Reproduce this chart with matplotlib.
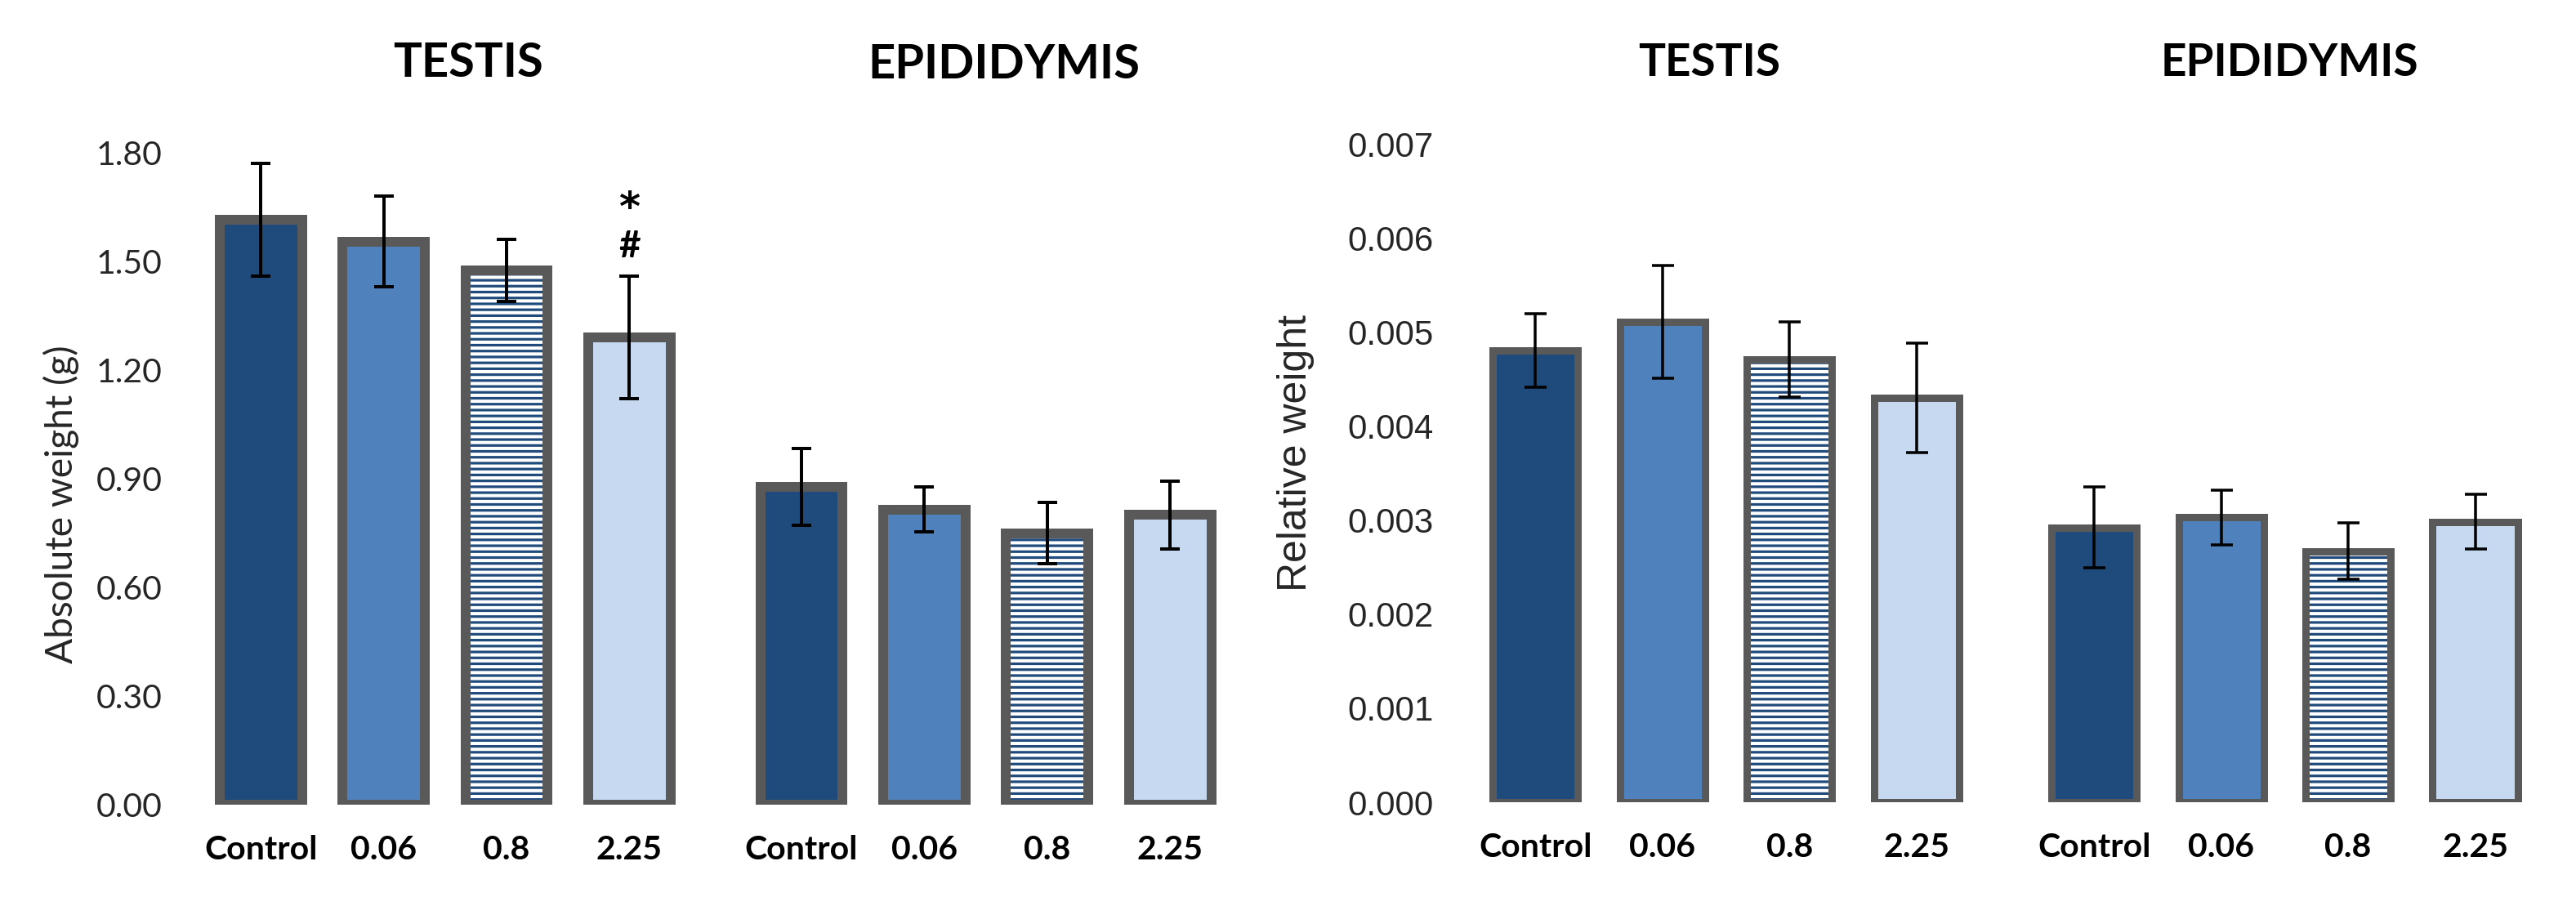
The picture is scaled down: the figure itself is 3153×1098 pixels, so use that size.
import numpy as np
import matplotlib
matplotlib.use("Agg")
import matplotlib.pyplot as plt

# data
doses = ["Control", "0.06", "0.8", "2.25"]
abs_testis = [1.615, 1.555, 1.475, 1.29]
abs_testis_err = [0.155, 0.125, 0.085, 0.17]
abs_epid = [0.877, 0.815, 0.75, 0.80]
abs_epid_err = [0.106, 0.062, 0.085, 0.093]
rel_testis = [0.00480, 0.00511, 0.00471, 0.00430]
rel_testis_err = [0.00039, 0.00060, 0.00040, 0.00058]
rel_epid = [0.00292, 0.00303, 0.00267, 0.00298]
rel_epid_err = [0.00043, 0.00029, 0.00030, 0.00029]
abs_ticks = [0.0, 0.3, 0.6, 0.9, 1.2, 1.5, 1.8]
rel_ticks = [0.000, 0.001, 0.002, 0.003, 0.004, 0.005, 0.006, 0.007]

DPI = 130
W, H = 3153, 1098


def pt(px):
    return px * 72 / DPI


def rect(l, t, r, b):
    return [l / W, 1 - b / H, (r - l) / W, (b - t) / H]


NAVY = "#1F4A7C"
MID = "#4F81BD"
LIGHT = "#C6D9F1"
EDGE = "#595959"
fills = [NAVY, MID, "none", LIGHT]

plt.rcParams["hatch.linewidth"] = pt(3.2)

fig = plt.figure(figsize=(W / DPI, H / DPI), dpi=DPI)
fig.patch.set_facecolor("white")

GAP = 4.4
x_t = np.arange(4)
x_e = np.arange(4) + GAP
xs = np.concatenate([x_t, x_e])
names = doses + doses


def panel(ax, vals, errs, edge_px, cap_px, elw_px, pad_y):
    vals = np.array(vals)
    colors = fills + fills
    ax.bar(xs, vals, 0.67, color=colors, edgecolor=EDGE,
           linewidth=pt(edge_px), zorder=2)
    hidx = [2, 6]
    ax.bar(xs[hidx], vals[hidx], 0.67, facecolor="white", edgecolor=NAVY,
           hatch="---", linewidth=0, zorder=1.5)
    ax.errorbar(xs, vals, yerr=errs, fmt="none", ecolor="black",
                elinewidth=pt(elw_px), capsize=pt(cap_px),
                capthick=pt(elw_px), zorder=3)
    for s in ax.spines.values():
        s.set_visible(False)
    ax.set_xlim(-0.6, 7.95)
    ax.set_xticks(xs)
    ax.set_xticklabels(names, fontfamily="Lato", fontweight="bold",
                       fontsize=pt(41))
    ax.tick_params(axis="x", length=0, pad=pt(37))
    ax.tick_params(axis="y", length=0, pad=pad_y)


# left: absolute weight
ax1 = fig.add_axes(rect(229, 187, 1515, 985))
panel(ax1, abs_testis + abs_epid, abs_testis_err + abs_epid_err,
      12, 12, 4, pt(30))
ax1.set_ylim(0, 1.8)
ax1.set_yticks(abs_ticks)
ax1.set_yticklabels(["%.2f" % v for v in abs_ticks], fontfamily="Lato",
                    fontsize=pt(41), color="#262626")
ax1.text(x_t[3], 1.645, "*", ha="center", va="center",
         fontfamily="DejaVu Sans", fontweight="bold", fontsize=pt(50))
ax1.text(x_t[3], 1.541, "#", ha="center", va="center", fontfamily="Lato",
         fontweight="bold", fontsize=pt(46))

# right: relative weight
ax2 = fig.add_axes(rect(1786, 176, 3115, 982))
panel(ax2, rel_testis + rel_epid, rel_testis_err + rel_epid_err,
      9, 13.5, 3.5, pt(31))
ax2.set_ylim(0, 0.007)
ax2.set_yticks(rel_ticks)
ax2.set_yticklabels(["%.3f" % v for v in rel_ticks],
                    fontfamily="Liberation Sans", fontsize=pt(42),
                    color="#262626")

# axis titles
fig.text(75 / W, 1 - 617 / H, "Absolute weight (g)", rotation=90,
         ha="center", va="center", fontfamily="Lato", fontsize=pt(46),
         color="#262626")
fig.text(1586 / W, 1 - 555 / H, "Relative weight", rotation=90,
         ha="center", va="center", fontfamily="Liberation Sans",
         fontsize=pt(50), color="#262626")

# group headers
for cx, cy, txt, fs in [(573, 77, "TESTIS", 58), (1229, 80, "EPIDIDYMIS", 58),
                        (2092, 77, "TESTIS", 55), (2802, 77, "EPIDIDYMIS", 55)]:
    fig.text(cx / W, 1 - cy / H, txt, ha="center", va="center",
             fontfamily="Lato", fontweight="bold", fontsize=pt(fs))

fig.savefig("out.png", dpi=DPI, facecolor="white")
